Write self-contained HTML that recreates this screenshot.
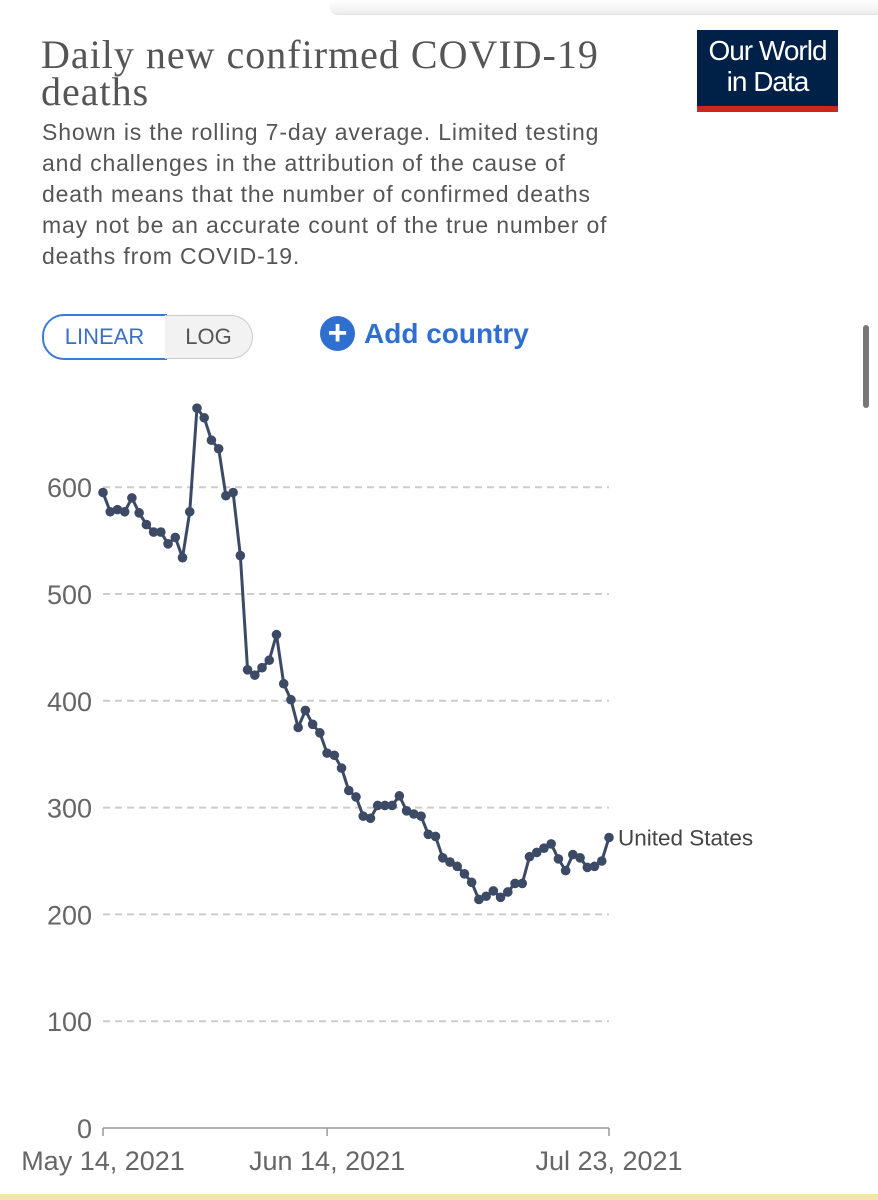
<!DOCTYPE html>
<html><head><meta charset="utf-8"><style>
body{margin:0;width:878px;height:1200px;background:#fff;position:relative;overflow:hidden;font-family:"Liberation Sans",sans-serif}
.abs{position:absolute}
</style></head><body>
<div class="abs" style="left:330px;top:0;width:548px;height:14px;background:linear-gradient(#fff,#eee);border-bottom:1px solid #e4e4e4;border-radius:0 0 0 8px"></div>
<div class="abs" style="left:41px;top:36px;width:600px;font-family:'Liberation Serif',serif;font-size:40px;line-height:37px;color:#555;letter-spacing:1px">Daily new confirmed COVID-19 deaths</div>
<div class="abs" style="left:42px;top:117px;width:585px;font-size:23px;line-height:31px;color:#555;letter-spacing:0.85px">Shown is the rolling 7-day average. Limited testing and challenges in the attribution of the cause of death means that the number of confirmed deaths may not be an accurate count of the true number of deaths from COVID-19.</div>
<div class="abs" style="left:697px;top:30px;width:141px;height:82px;background:#002147;color:#fff;text-align:center;font-size:28px;line-height:31px;box-sizing:border-box;padding-top:5px;border-bottom:6px solid #ce261e;letter-spacing:-1px">Our World<br>in Data</div>
<div class="abs" style="left:42px;top:314px;width:121px;height:42px;border:2px solid #3b7bd6;border-radius:22px 0 0 22px;color:#3b6fc5;font-size:22px;line-height:42px;text-align:center;box-sizing:content-box">LINEAR</div>
<div class="abs" style="left:165px;top:315px;width:87px;height:42px;border:1px solid #ccc;border-left:none;border-radius:0 22px 22px 0;background:#f2f2f2;color:#555;font-size:22px;line-height:42px;text-align:center">LOG</div>
<div class="abs" style="left:320px;top:316px;height:36px;color:#2f6fd0;font-size:28px;line-height:36px;font-weight:bold;white-space:nowrap"><span style="display:inline-block;width:35px;height:35px;border-radius:50%;background:#2f6fd0;color:#fff;text-align:center;line-height:34px;font-size:34px;vertical-align:top;margin-right:9px">+</span>Add country</div>
<div class="abs" style="left:863px;top:325px;width:6px;height:83px;border-radius:3px;background:#777"></div>
<div class="abs" style="left:0;top:1194px;width:878px;height:6px;background:#f3e7a8"></div>
<svg class="abs" style="left:0;top:0" width="878" height="1200" id="chart"></svg>
<script>
const values=[595,577,579,577,590,576,565,558,558,547,553,534,577,674,665,644,636,592,595,536,429,424,431,438,462,416,401,375,391,378,370,351,349,337,316,310,292,290,302,302,302,311,297,294,292,275,273,253,249,245,238,230,214,217,222,216,221,229,229,254,258,262,266,252,241,256,253,244,245,250,272];
const yTicks=[0,100,200,300,400,500,600];
const xTickIdx=[0,31,70];
const xTickLabels=["May 14, 2021","Jun 14, 2021","Jul 23, 2021"];
const seriesName="United States";
const NS="http://www.w3.org/2000/svg";
const svg=document.getElementById('chart');
const x0=103,x1=609,y0=1128,pxPer=106.8/100;
const xs=i=>x0+(x1-x0)*i/(values.length-1);
const ys=v=>y0-v*pxPer;
function mk(t,a){const e=document.createElementNS(NS,t);for(const k in a)e.setAttribute(k,a[k]);svg.appendChild(e);return e;}
yTicks.forEach(v=>{
  let l;
  if(v===0){l=mk('line',{x1:x0,x2:x1,y1:ys(v),y2:ys(v),stroke:'#999','stroke-width':1.5});}
  else{l=mk('line',{x1:x0,x2:x1,y1:ys(v),y2:ys(v),stroke:'#ccc','stroke-width':2,'stroke-dasharray':'7,5'});}
  
  
  const t=mk('text',{x:92,y:ys(v)+10,'text-anchor':'end','font-size':27,fill:'#666','font-family':'Liberation Sans, sans-serif'});
  t.textContent=v;
  
  
});
xTickIdx.forEach((idx,k)=>{
  const tk=mk('line',{x1:xs(idx),x2:xs(idx),y1:y0,y2:y0+8,stroke:'#999','stroke-width':1.5});
  
  
  const t=mk('text',{x:xs(idx),y:1170,'text-anchor':'middle','font-size':27,fill:'#666','font-family':'Liberation Sans, sans-serif'});
  t.textContent=xTickLabels[k];
  
  
});
const path=mk('polyline',{points:values.map((v,i)=>xs(i)+','+ys(v)).join(' '),fill:'none',stroke:'#3c4a66','stroke-width':3,'stroke-linejoin':'round'});


values.forEach((v,i)=>{
  const c=mk('circle',{cx:xs(i),cy:ys(v),r:4.8,fill:'#3c4a66'});
  
  
});
const lab=mk('text',{x:xs(values.length-1)+9,y:ys(values[values.length-1])+8,'font-size':22.5,fill:'#444','font-family':'Liberation Sans, sans-serif'});
lab.textContent=seriesName;


</script>
</body></html>
